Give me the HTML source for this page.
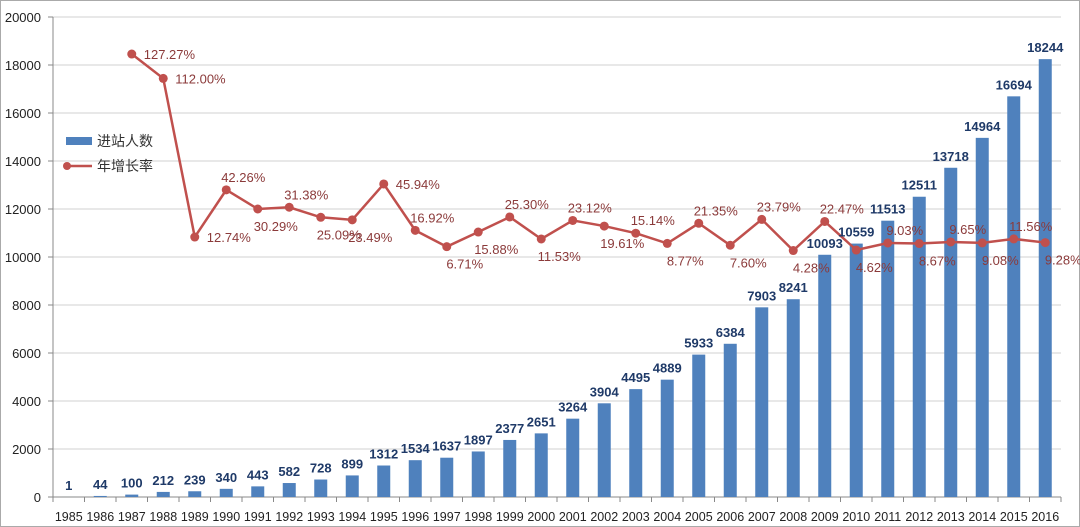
<!DOCTYPE html>
<html><head><meta charset="utf-8"><style>
body{margin:0;background:#fff}
svg{display:block;font-family:"Liberation Sans","Noto Sans CJK SC",sans-serif}
</style></head><body>
<svg id="chart" width="1080" height="527" viewBox="0 0 1080 527">
<rect x="0.5" y="0.5" width="1079" height="526" fill="#fff" stroke="#aaa"/>
<g id="grid"></g><g id="bars"></g><g id="line"></g><g id="labels"></g>
<g>
<rect x="66" y="137" width="26" height="8" fill="#4f81bd"/>
<text x="97" y="146" font-size="14" fill="#333">进站人数</text>
<line x1="66" y1="166" x2="92" y2="166" stroke="#c0504d" stroke-width="2.5"/>
<circle cx="67" cy="166" r="4" fill="#c0504d"/>
<text x="97" y="171" font-size="14" fill="#333">年增长率</text>
</g>
</svg>
<script>
const years=[1985,1986,1987,1988,1989,1990,1991,1992,1993,1994,1995,1996,1997,1998,1999,2000,2001,2002,2003,2004,2005,2006,2007,2008,2009,2010,2011,2012,2013,2014,2015,2016];
const passengers=[1,44,100,212,239,340,443,582,728,899,1312,1534,1637,1897,2377,2651,3264,3904,4495,4889,5933,6384,7903,8241,10093,10559,11513,12511,13718,14964,16694,18244];
const growth=[null,null,127.27,112.00,12.74,42.26,30.29,31.38,25.09,23.49,45.94,16.92,6.71,15.88,25.30,11.53,23.12,19.61,15.14,8.77,21.35,7.60,23.79,4.28,22.47,4.62,9.03,8.67,9.65,9.08,11.56,9.28];
const yTicks=[0,2000,4000,6000,8000,10000,12000,14000,16000,18000,20000];
const labelPlace=['','','r','r','r','a','b','a','b','b','r','a','b','b','a','b','a','b','a','b','a','b','a','b','a','b','a','b','a','b','a','b'];

const NS='http://www.w3.org/2000/svg';
const L=53,R=1061,T=17,B=497;
const bw=(R-L)/years.length;
const xc=i=>L+bw*(i+0.5);
const y=v=>B-(v/20000)*(B-T);
const yg=g=>257.4-g*1.598;
function mk(tag,parent,attrs){const e=document.createElementNS(NS,tag);for(const k in attrs)e.setAttribute(k,attrs[k]);parent.appendChild(e);return e;}
const grid=document.getElementById('grid'),bars=document.getElementById('bars'),line=document.getElementById('line'),labels=document.getElementById('labels');

yTicks.forEach(t=>{
  const g=mk('line',grid,{x1:L,x2:R,y1:y(t),y2:y(t),stroke:t===0?'#888':'#d0d0d0','stroke-width':1});
  
  
  const tk=mk('line',grid,{x1:L-5,x2:L,y1:y(t),y2:y(t),stroke:'#888'});
  
  
  const tx=mk('text',grid,{x:41,y:y(t)+5,'text-anchor':'end','font-size':13,fill:'#222'});
  tx.textContent=t;
  
  
});
const ax=mk('line',grid,{x1:L,x2:L,y1:T,y2:B,stroke:'#888'});


for(let i=0;i<=years.length;i++){
  const tk=mk('line',grid,{x1:L+bw*i,x2:L+bw*i,y1:B,y2:B+5,stroke:'#888'});
  
  
}
years.forEach((yr,i)=>{
  const tx=mk('text',grid,{x:xc(i),y:521,'text-anchor':'middle','font-size':12.5,fill:'#222'});
  tx.textContent=yr;
  
  
  const v=passengers[i];
  const r=mk('rect',bars,{x:xc(i)-6.5,y:y(v),width:13,height:B-y(v),fill:'#4f81bd'});
  
  
  const bl=mk('text',labels,{x:xc(i),y:y(v)-7,'text-anchor':'middle','font-size':13,'font-weight':'600',fill:'#1f3a68'});
  bl.textContent=v;
  
  
});
let pts=[];
growth.forEach((g,i)=>{if(g!==null)pts.push([xc(i),yg(g),g,i]);});
const pl=mk('polyline',line,{points:pts.map(p=>p[0]+','+p[1]).join(' '),fill:'none',stroke:'#c0504d','stroke-width':2.5});


pts.forEach(p=>{
  const c=mk('circle',line,{cx:p[0],cy:p[1],r:4.5,fill:'#c0504d'});
  
  
  const pos=labelPlace[p[3]];
  let a={'font-size':13,fill:'#8b3a3a'};
  if(pos==='r'){a.x=p[0]+12;a.y=p[1]+5;a['text-anchor']='start';}
  else if(pos==='a'){a.x=p[0]+17;a.y=p[1]-8;a['text-anchor']='middle';}
  else {a.x=p[0]+18;a.y=p[1]+22;a['text-anchor']='middle';}
  const t=mk('text',labels,a);
  t.textContent=p[2].toFixed(2)+'%';
  
  
});
</script>
</body></html>
